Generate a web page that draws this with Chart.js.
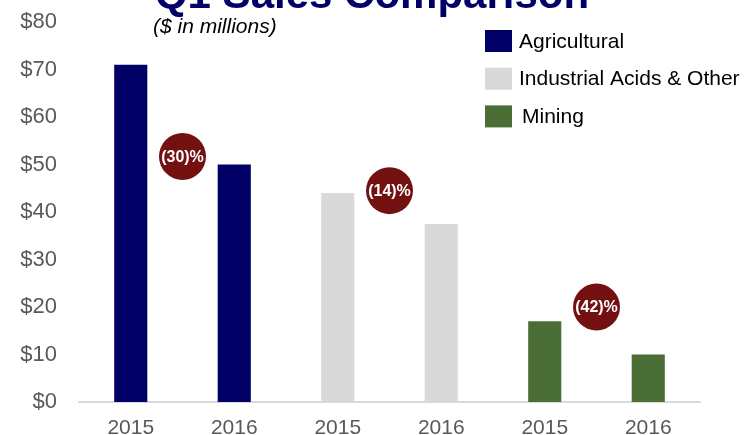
<!DOCTYPE html>
<html>
<head>
<meta charset="utf-8">
<script src="https://cdn.jsdelivr.net/npm/chart.js@4.4.1/dist/chart.umd.min.js"></script>
<style>
  html, body { margin: 0; padding: 0; background: #fff; }
  #wrap { width: 745px; height: 435px; position: relative; }
</style>
</head>
<body>
<div id="wrap"><canvas id="myChart" width="745" height="435"></canvas></div>
<script>
// dati del grafico
const years = ['2015', '2016', '2015', '2016', '2015', '2016'];
const seriesNames = ['Agricultural', 'Industrial Acids & Other', 'Mining'];
const agricultural = [71, 50];
const industrial = [44, 37.5];
const mining = [17, 10];
const seriesColors = ['#000066', '#d9d9d9', '#4b6e36'];

// badge con la variazione percentuale (posizione y in valori dell'asse)
const changeLabels = ['(30)%', '(14)%', '(42)%'];
const changeLevels = [51.7, 44.5, 20];

const yTicks = [0, 10, 20, 30, 40, 50, 60, 70, 80];

// ogni serie occupa solo le sue due colonne
function padSeries(values, group) {
  const out = years.map(() => null);
  values.forEach((v, i) => { out[group * 2 + i] = v; });
  return out;
}

const allSeries = [agricultural, industrial, mining];
const datasets = allSeries.map((vals, g) => ({
  label: seriesNames[g],
  data: padSeries(vals, g),
  backgroundColor: seriesColors[g],
  categoryPercentage: 1,
  barPercentage: 0.32
}));

// titolo, sottotitolo, legenda e badge disegnati a mano
const decorations = {
  id: 'decorations',
  afterDatasetsDraw(chart) {
    const c = chart.ctx;
    const x = chart.scales.x;
    const y = chart.scales.y;
    c.save();

    // titolo tagliato in alto
    c.fillStyle = '#000066';
    c.font = 'bold 42px "Liberation Sans", Arial, sans-serif';
    c.textAlign = 'center';
    c.textBaseline = 'alphabetic';
    c.fillText('Q1 Sales Comparison', 372, 8);

    c.fillStyle = '#000000';
    c.font = 'italic 21px "Liberation Sans", Arial, sans-serif';
    c.textAlign = 'left';
    c.textBaseline = 'middle';
    c.fillText('($ in millions)', 153, 27);

    // legenda
    c.font = '21px "Liberation Sans", Arial, sans-serif';
    seriesNames.forEach((name, i) => {
      const cy = 41 + i * 37.7;
      c.fillStyle = seriesColors[i];
      c.fillRect(485, cy - 11, 27, 22);
      c.fillStyle = '#000000';
      c.fillText(name, i === 2 ? 522 : 519, cy + 1);
    });

    // badge
    changeLabels.forEach((txt, i) => {
      const cx = (x.getPixelForValue(i * 2) + x.getPixelForValue(i * 2 + 1)) / 2;
      const cy = y.getPixelForValue(changeLevels[i]);
      c.beginPath();
      c.arc(cx, cy, 23.5, 0, Math.PI * 2);
      c.fillStyle = '#731010';
      c.fill();
      c.fillStyle = '#ffffff';
      c.font = 'bold 16px "Liberation Sans", Arial, sans-serif';
      c.textAlign = 'center';
      c.fillText(txt, cx, cy + 1);
    });
    c.restore();
  }
};

const ctx = document.getElementById('myChart').getContext('2d');
new Chart(ctx, {
  type: 'bar',
  data: { labels: years, datasets: datasets },
  options: {
    responsive: false,
    animation: false,
    layout: { padding: { top: 22, right: 45, bottom: 0, left: 0 } },
    plugins: {
      legend: { display: false },
      tooltip: { enabled: false }
    },
    scales: {
      x: {
        stacked: true,
        grid: { display: false, drawTicks: false },
        border: { display: true, color: '#d9d9d9', width: 2 },
        ticks: {
          color: '#595959',
          padding: 14,
          font: { family: '"Liberation Sans", Arial, sans-serif', size: 21 }
        },
        afterFit(scale) {
          scale.height = 33;
          scale.paddingLeft = 0;
          scale.paddingRight = 0;
        }
      },
      y: {
        min: 0,
        max: 80,
        afterBuildTicks(scale) { scale.ticks = yTicks.map(v => ({ value: v })); },
        grid: { display: false, drawTicks: false },
        border: { display: false },
        ticks: {
          color: '#595959',
          padding: 22,
          font: { family: '"Liberation Sans", Arial, sans-serif', size: 22 },
          callback: v => '$' + v
        },
        afterFit(scale) {
          scale.width = 79;
          scale.paddingTop = 0;
          scale.paddingBottom = 0;
        }
      }
    }
  },
  plugins: [decorations]
});
</script>
</body>
</html>
